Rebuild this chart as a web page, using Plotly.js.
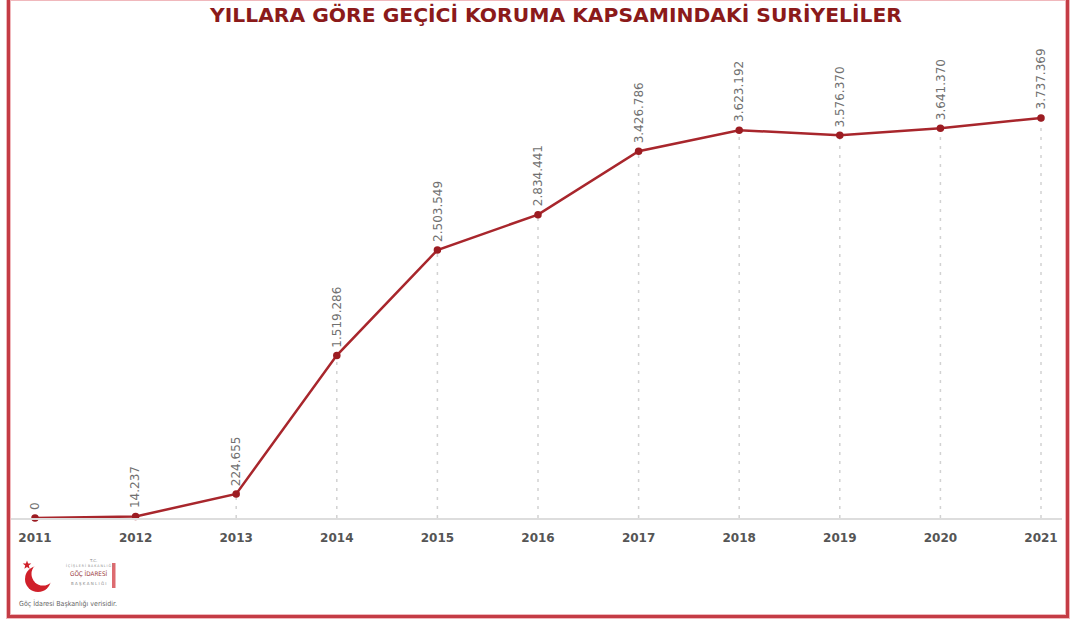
<!DOCTYPE html>
<html>
<head>
<meta charset="utf-8">
<script src="https://cdn.plot.ly/plotly-3.0.1.min.js"></script>
<style>
  html, body { margin: 0; padding: 0; background: #fff; overflow: hidden; }
  #wrap { position: relative; width: 1070px; height: 622px; }
  #chart { position: absolute; left: 0; top: 0; width: 1070px; height: 622px; }
  #frame { position: absolute; left: 7px; top: -3px; width: 1056px; height: 615px;
           border: 3px solid #c43c45; box-shadow: 0 0 0 1px #f0b8bc, inset 0 0 0 1px #f0b8bc;
           pointer-events: none; }
</style>
</head>
<body>
<div id="wrap">
  <div id="chart"></div>
  <div id="frame"></div>
</div>
<script>
const titleText = 'YILLARA GÖRE GEÇİCİ KORUMA KAPSAMINDAKİ SURİYELİLER';
const years = [2011, 2012, 2013, 2014, 2015, 2016, 2017, 2018, 2019, 2020, 2021];
const tickLabels = ['2011', '2012', '2013', '2014', '2015', '2016', '2017', '2018', '2019', '2020', '2021'];
const values = [0, 14237, 224655, 1519286, 2503549, 2834441, 3426786, 3623192, 3576370, 3641370, 3737369];
const valueLabels = ['0', '14.237', '224.655', '1.519.286', '2.503.549', '2.834.441', '3.426.786', '3.623.192', '3.576.370', '3.641.370', '3.737.369'];
const sourceText = 'Göç İdaresi Başkanlığı verisidir.';

// dashed drop lines built from the data
const dropX = [], dropY = [];
years.forEach((yr, i) => { dropX.push(yr, yr, null); dropY.push(0, values[i], null); });

const lineColor = '#a8262c';

const traces = [
  { x: dropX, y: dropY, mode: 'lines', type: 'scatter',
    line: { color: '#d2d2d2', width: 1.5, dash: '3px,6px' }, hoverinfo: 'skip', showlegend: false },
  { x: years, y: values, mode: 'lines+markers', type: 'scatter',
    line: { color: lineColor, width: 2.5 },
    marker: { color: '#9c1c22', size: 7.5 }, cliponaxis: false, showlegend: false }
];

const annotations = years.map((yr, i) => ({
  x: yr, y: values[i], xref: 'x', yref: 'y', text: valueLabels[i], showarrow: false,
  textangle: -90, xanchor: 'center', yanchor: 'bottom', yshift: 6,
  font: { family: 'DejaVu Sans', size: 12, color: '#707070' }
}));

// logo (paper coords: plot area l=10,w=1052,t=40,h=478)
const px = v => (v - 10) / 1052;
const py = v => (518 - v) / 478;
annotations.push(
  { xref: 'paper', yref: 'paper', x: px(93), y: py(560), xanchor: 'center', yanchor: 'middle', text: 'T.C.', showarrow: false,
    font: { family: 'DejaVu Sans', size: 4, color: '#888' } },
  { xref: 'paper', yref: 'paper', x: px(89), y: py(565), xanchor: 'center', yanchor: 'middle', text: 'İ Ç İ Ş L E R İ  B A K A N L I Ğ I', showarrow: false,
    font: { family: 'DejaVu Sans Condensed', size: 3.5, color: '#888' } },
  { xref: 'paper', yref: 'paper', x: px(89), y: py(574), xanchor: 'center', yanchor: 'middle', text: 'GÖÇ İDARESİ', showarrow: false,
    font: { family: 'DejaVu Sans Condensed', size: 6.3, color: '#9a3a40' } },
  { xref: 'paper', yref: 'paper', x: px(89), y: py(583), xanchor: 'center', yanchor: 'middle', text: 'B A Ş K A N L I Ğ I', showarrow: false,
    font: { family: 'DejaVu Sans', size: 4, color: '#888' } },
  { xref: 'paper', yref: 'paper', x: px(17), y: py(603), xanchor: 'left', yanchor: 'middle', text: sourceText, showarrow: false,
    font: { family: 'DejaVu Sans Condensed', size: 7, color: '#666' } }
);

// star path for logo
function starPath(cx, cy, ro, ri) {
  let d = '';
  for (let k = 0; k < 10; k++) {
    const r = k % 2 === 0 ? ro : ri;
    const a = -Math.PI / 2 + k * Math.PI / 5;
    d += (k === 0 ? 'M' : 'L') + px(cx + r * Math.cos(a)).toFixed(5) + ',' + py(cy + r * Math.sin(a)).toFixed(5);
  }
  return d + 'Z';
}

const shapes = [
  { type: 'circle', layer: 'below', xref: 'paper', yref: 'paper', x0: px(25), x1: px(51), y0: py(592), y1: py(566),
    fillcolor: '#d0202a', line: { width: 0 } },
  { type: 'circle', layer: 'below', xref: 'paper', yref: 'paper', x0: px(31.5), x1: px(54.5), y0: py(585.5), y1: py(562.5),
    fillcolor: '#ffffff', line: { width: 0 } },
  { type: 'path', layer: 'above', xref: 'paper', yref: 'paper', path: starPath(27, 565, 4.5, 1.9),
    fillcolor: '#d0202a', line: { width: 0 } },
  { type: 'rect', layer: 'below', xref: 'paper', yref: 'paper', x0: px(112), x1: px(115.5), y0: py(588), y1: py(563),
    fillcolor: '#dd6b70', line: { width: 0 } }
];

const layout = {
  width: 1070, height: 622,
  margin: { l: 10, r: 8, t: 40, b: 104 },
  paper_bgcolor: '#ffffff', plot_bgcolor: '#ffffff',
  title: { text: titleText, x: 556 / 1070, xref: 'container', xanchor: 'center',
           y: 1 - 15 / 622, yref: 'container', yanchor: 'middle',
           font: { family: 'DejaVu Sans', size: 20.3, color: '#8b1a1a', weight: 'bold' } },
  xaxis: { range: [2010.7515, 2021.2087], tickvals: years, ticktext: tickLabels,
           showgrid: false, zeroline: false, showline: true, linecolor: '#dddddd', linewidth: 1.5,
           ticks: '', ticklabelstandoff: 8,
           tickfont: { family: 'DejaVu Sans', size: 12, color: '#555555', weight: 'bold' }, fixedrange: true },
  yaxis: { range: [0, 4466000], visible: false, showgrid: false, zeroline: false, fixedrange: true },
  annotations: annotations,
  shapes: shapes,
  hovermode: false,
  showlegend: false
};

Plotly.newPlot('chart', traces, layout, { displayModeBar: false, staticPlot: true });
</script>
</body>
</html>
